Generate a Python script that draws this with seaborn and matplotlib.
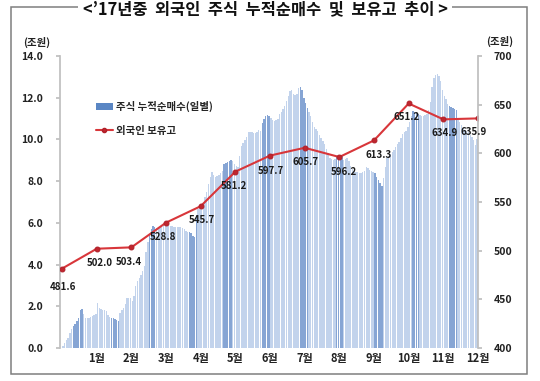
import numpy as np
import pandas as pd
import matplotlib
matplotlib.use("Agg")
import matplotlib.pyplot as plt
import seaborn as sns
from matplotlib.patches import Rectangle, Patch
from matplotlib.lines import Line2D

# ---------------- data ----------------
month_labels = ["1월", "2월", "3월", "4월", "5월", "6월", "7월", "8월", "9월", "10월", "11월", "12월"]

# cumulative foreign net purchase (조원), daily, 20 readings per month
jan = [0.10, 0.22, 0.36, 0.50, 0.70, 0.90, 1.05, 1.15, 1.30, 1.45,
       1.80, 1.85, 1.65, 1.45, 1.42, 1.45, 1.50, 1.55, 1.60, 1.65]
feb = [2.15, 1.90, 1.85, 1.82, 1.82, 1.78, 1.60, 1.50, 1.45, 1.42,
       1.38, 1.32, 1.30, 1.70, 1.80, 1.90, 2.10, 2.40, 2.42, 2.40]
mar = [2.25, 2.50, 2.95, 3.20, 3.35, 3.50, 3.70, 3.95, 4.60, 5.10,
       5.40, 5.70, 5.85, 5.80, 5.75, 5.70, 5.80, 5.85, 5.90, 5.85]
apr = [5.90, 5.88, 5.85, 5.85, 5.82, 5.80, 5.80, 5.82, 5.80, 5.75,
       5.70, 5.62, 5.58, 5.55, 5.50, 5.38, 5.30, 6.40, 6.65, 6.80]
may = [6.85, 7.00, 7.25, 7.50, 7.85, 8.20, 8.45, 8.30, 8.20, 8.25,
       8.30, 8.40, 8.50, 8.80, 8.85, 8.90, 8.95, 9.00, 8.95, 8.80]
jun = [8.75, 8.70, 9.20, 9.70, 9.85, 9.95, 10.10, 10.35, 10.38, 10.35,
       10.30, 10.30, 10.35, 10.45, 10.40, 10.80, 11.00, 11.10, 11.15, 11.10]
jul = [11.05, 10.95, 10.90, 10.92, 11.00, 11.20, 11.30, 11.48, 11.60, 11.85,
       12.10, 12.30, 12.37, 12.20, 12.12, 12.20, 12.45, 12.53, 12.35, 12.00]
aug = [11.75, 11.50, 11.30, 11.10, 10.85, 10.60, 10.50, 10.40, 10.20, 10.05,
       9.92, 9.80, 9.55, 9.35, 9.10, 9.05, 9.00, 9.05, 9.15, 9.20]
sep = [9.25, 9.20, 9.00, 9.05, 9.10, 8.95, 8.75, 8.60, 8.50, 8.45,
       8.45, 8.40, 8.38, 8.45, 8.50, 8.70, 8.65, 8.55, 8.50, 8.45]
oct_ = [8.38, 8.20, 8.05, 7.90, 7.78, 8.15, 8.70, 9.10, 9.20, 9.28,
        9.40, 9.50, 9.65, 9.78, 9.90, 10.05, 10.25, 10.35, 10.42, 10.60]
nov = [10.85, 11.10, 11.35, 11.30, 11.25, 11.20, 11.18, 11.12, 11.10, 11.15,
       11.20, 11.40, 11.80, 12.50, 12.95, 13.10, 13.12, 13.05, 12.80, 12.35]
dec = [12.10, 11.95, 11.72, 11.60, 11.55, 11.50, 11.45, 11.40, 11.05, 10.85,
       10.70, 10.55, 10.45, 10.40, 10.37, 10.20, 10.10, 9.95, 9.75, 10.00]

# foreign holdings (조원): end of 2016, then each month end
holdings = [481.6, 502.0, 503.4, 528.8, 545.7, 581.2, 597.7, 605.7,
            596.2, 613.3, 651.2, 634.9, 635.9]

# ---------------- style ----------------
LIGHT = "#C2D3EC"
DARK = "#86A5D4"
LEG_BLUE = "#5A86C4"
RED = "#D8363A"
GRAY = "#BFBFBF"
dark_ranges = [(6, 11), (28, 32), (50, 53), (73, 77), (93, 97), (115, 119),
               (137, 141), (158, 161), (180, 184), (202, 205), (223, 227)]
label_offsets_px = [(1, -18), (3, -14), (-3, -15), (-3, -14), (1, -14), (-1, -14),
                    (1, -15), (1, -14), (5, -15), (5, -15), (-2, -14), (1, -14), (-4, -14)]

sns.set_theme(style="white")
plt.rcParams["font.family"] = ["Noto Sans CJK KR", "DejaVu Sans"]

monthly = [jan, feb, mar, apr, may, jun, jul, aug, sep, oct_, nov, dec]
rows = []
k = 0
for m, vals in enumerate(monthly):
    n = len(vals)
    for i, v in enumerate(vals):
        is_dark = any(a <= k <= b for a, b in dark_ranges)
        rows.append({"x": m + (i + 0.5) / n, "value": v, "dark": is_dark})
        k += 1
df = pd.DataFrame(rows)

fig = plt.figure(figsize=(5.4, 3.81), dpi=100)
ax = fig.add_axes([60 / 540, 1 - 348 / 381, 418 / 540, 292 / 381])

sns.barplot(data=df, x="x", y="value", hue="dark",
            palette={False: LIGHT, True: DARK}, native_scale=True, dodge=False,
            width=0.8, errorbar=None, legend=False, saturation=1,
            linewidth=0, ax=ax)

ax2 = ax.twinx()
line_x = list(range(len(holdings)))
sns.lineplot(x=line_x, y=holdings, ax=ax2, color=RED, linewidth=1.5,
             marker="o", markersize=3.5, markeredgecolor="#B0202A",
             markerfacecolor="#C0262E")

ax.set_xlim(-0.06, 12)
ax.set_ylim(0, 14)
ax2.set_ylim(400, 700)

ax.set_xticks(range(1, 13))
ax.set_xticklabels(month_labels, fontsize=8, fontweight="bold", color="#222222")
ax.set_xlabel("")
ax.set_ylabel("")
ax2.set_ylabel("")
ax.set_yticks(np.arange(0, 14.1, 2))
ax.set_yticklabels([f"{v:.1f}" for v in np.arange(0, 14.1, 2)],
                   fontsize=7.5, fontweight="bold", color="#222222")
ax2.set_yticks(np.arange(400, 701, 50))
ax2.set_yticklabels([f"{v:d}" for v in range(400, 701, 50)],
                    fontsize=7.5, fontweight="bold", color="#222222")

ax.tick_params(axis="x", length=0, pad=3)
ax.tick_params(axis="y", length=3, color=GRAY, pad=9, direction="out")
ax2.tick_params(axis="y", length=3, color=GRAY, pad=8, direction="out")

for s in ["top", "right", "bottom"]:
    ax.spines[s].set_visible(False)
for s in ["top", "left", "bottom"]:
    ax2.spines[s].set_visible(False)
ax.spines["left"].set_color(GRAY)
ax2.spines["right"].set_color(GRAY)
ax.grid(False)
ax2.grid(False)

for (x, v), (dx, dy) in zip(zip(line_x, holdings), label_offsets_px):
    ax2.annotate(f"{v:.1f}", (x, v), xytext=(dx * 0.72, dy * 0.72),
                 textcoords="offset points", ha="center", va="center",
                 fontsize=7, fontweight="bold", color="#1A1A1A")

handles = [Patch(facecolor=LEG_BLUE, edgecolor="none"),
           Line2D([], [], color=RED, linewidth=1.5, marker="o", markersize=3,
                  markerfacecolor="#C0262E", markeredgecolor="#B0202A")]
ax2.legend(handles, ["주식 누적순매수(일별)", "외국인 보유고"],
           loc="upper left", bbox_to_anchor=(96 / 540, 1 - 101 / 381),
           bbox_transform=fig.transFigure, frameon=False,
           prop={"size": 7.5, "weight": "bold"}, handlelength=1.6,
           handleheight=0.6, labelspacing=1.3, handletextpad=0.3,
           borderaxespad=0, borderpad=0)

fig.text(37 / 540, 1 - 42 / 381, "(조원)", ha="center", va="center",
         fontsize=7.5, fontweight="bold", color="#222222")
fig.text(500 / 540, 1 - 41 / 381, "(조원)", ha="center", va="center",
         fontsize=7.5, fontweight="bold", color="#222222")

# outer frame with title breaking the top edge
fig.patches.append(Rectangle((11 / 540, 1 - 374 / 381), 516 / 540, 367 / 381,
                             transform=fig.transFigure, fill=False,
                             edgecolor="#7F7F7F", linewidth=1.1, zorder=0))
fig.text(265 / 540, 1 - 9 / 381, "<’17년중  외국인  주식  누적순매수  및  보유고  추이 >",
         ha="center", va="center", fontsize=11.8, fontweight="bold", color="#111111",
         bbox=dict(facecolor="white", edgecolor="none", pad=3.5), zorder=5)

fig.savefig("out.png", dpi=100)
